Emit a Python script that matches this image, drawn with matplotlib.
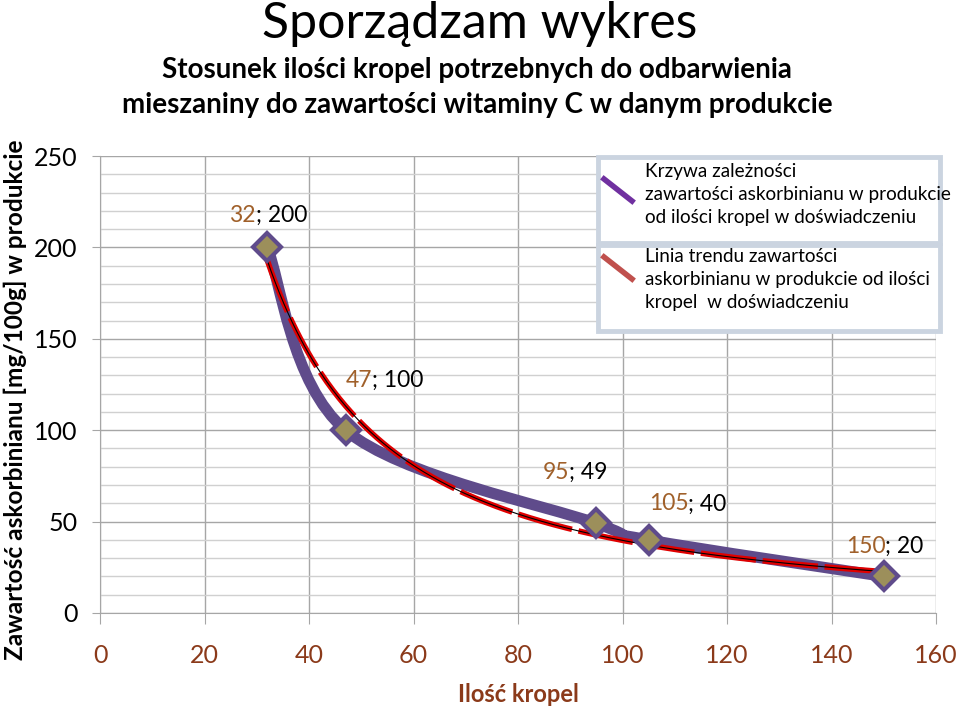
import numpy as np
import matplotlib
matplotlib.use('Agg')
import matplotlib.pyplot as plt
from matplotlib.path import Path
from matplotlib.patches import PathPatch, Rectangle
from matplotlib.lines import Line2D
from matplotlib.ticker import MultipleLocator

plt.rcParams['font.family'] = ['Lato', 'DejaVu Sans']

# dane z wykresu
krople = [32, 47, 95, 105, 150]
witamina_c = [200, 100, 49, 40, 20]
x_ticks = [0, 20, 40, 60, 80, 100, 120, 140, 160]
y_ticks = [0, 50, 100, 150, 200, 250]
# przesuniecia etykiet (px): lewa krawedz, w gore
label_off = [(-38, 32), (0, 50), (-54, 51), (0, 36), (-38, 30)]

legend_1 = ['Krzywa zależności',
            'zawartości askorbinianu w produkcie',
            'od ilości kropel w doświadczeniu']
legend_2 = ['Linia trendu zawartości',
            'askorbinianu w produkcie od ilości',
            'kropel  w doświadczeniu']

purple = '#5F4B8B'
brown = '#8B3A1A'
lab_brown = '#A0602A'

W, H = 960, 712
fig = plt.figure(figsize=(9.6, 7.12), dpi=100)
ax = fig.add_axes([100 / W, 1 - 613 / H, 836 / W, 457 / H])


def fx(px):
    return px / W


def fy(py):
    return 1 - py / H


ax.set_xlim(0, 160)
ax.set_ylim(0, 250)
ax.set_xticks(x_ticks)
ax.set_yticks(y_ticks)
ax.yaxis.set_minor_locator(MultipleLocator(10))
ax.grid(True, which='major', axis='x', color='#A6A6A6', lw=1)
ax.grid(True, which='major', axis='y', color='#A6A6A6', lw=1)
ax.grid(True, which='minor', axis='y', color='#D0D0D0', lw=1)
ax.set_axisbelow(True)
for s in ['top', 'right']:
    ax.spines[s].set_visible(False)
for s in ['left', 'bottom']:
    ax.spines[s].set_color('#A6A6A6')
ax.tick_params(axis='x', length=8, color='#A6A6A6', pad=14,
               labelsize=18, labelcolor=brown)
ax.tick_params(axis='y', length=6, color='#A6A6A6', pad=10,
               labelsize=18, labelcolor='black')
ax.tick_params(axis='y', which='minor', length=0)

# wygladzona krzywa (bezier jak w Excelu)
pts = np.column_stack([krople, witamina_c]).astype(float)
n = len(pts)
verts = [pts[0]]
codes = [Path.MOVETO]
for i in range(n - 1):
    p_prev = pts[i - 1] if i > 0 else pts[i]
    p_next2 = pts[i + 2] if i + 2 < n else pts[i + 1]
    c1 = pts[i] + (pts[i + 1] - p_prev) / 6
    c2 = pts[i + 1] - (p_next2 - pts[i]) / 6
    verts += [c1, c2, pts[i + 1]]
    codes += [Path.CURVE4] * 3
ax.add_patch(PathPatch(Path(verts, codes), fill=False, edgecolor=purple,
                       lw=8, capstyle='round', joinstyle='round', zorder=3))

# linia trendu potegowa
b, ln_a = np.polyfit(np.log(krople), np.log(witamina_c), 1)
xt = np.linspace(min(krople), max(krople), 300)
yt = np.exp(ln_a) * xt ** b
ax.plot(xt, yt, color='#E00000', lw=4, dashes=[10, 1.2], zorder=4)
ax.plot(xt, yt, color='black', lw=0.8, zorder=5)

ax.plot(krople, witamina_c, ls='none', marker='D', ms=14, mfc='#9C8F5B',
        mec=purple, mew=3, zorder=6)

# etykiety: x brazowy, reszta czarna
for x, y, (dx, dy) in zip(krople, witamina_c, label_off):
    t1 = ax.annotate(str(x), (x, y), xytext=(dx, dy),
                     textcoords='offset pixels', ha='left', va='center',
                     fontsize=16.5, color=lab_brown, zorder=7)
    ax.annotate(f'; {y}', xy=(1, 0), xycoords=t1, ha='left', va='bottom',
                fontsize=16.5, color='black', zorder=7)

# tytuly
fig.text(fx(480), fy(24), 'Sporządzam wykres', ha='center', va='center',
         fontsize=36)
fig.text(fx(477), fy(70), 'Stosunek ilości kropel potrzebnych do odbarwienia',
         ha='center', va='center', fontsize=20, fontweight='bold')
fig.text(fx(477), fy(105), 'mieszaniny do zawartości witaminy C w danym produkcie',
         ha='center', va='center', fontsize=20, fontweight='bold')
fig.text(fx(518), fy(695), 'Ilość kropel', ha='center', va='center',
         fontsize=17, fontweight='bold', color=brown)
fig.text(fx(15), fy(400), 'Zawartość askorbinianu [mg/100g] w produkcie',
         ha='center', va='center', rotation=90, fontsize=17.6,
         fontweight='bold')

# legenda
border = '#CBD4E0'
for top, bottom in [(157, 243), (245, 331)]:
    fig.add_artist(Rectangle((fx(598), fy(bottom)), fx(940) - fx(598),
                             fy(top) - fy(bottom), transform=fig.transFigure,
                             facecolor='white', edgecolor=border, lw=3.5,
                             zorder=10))
fig.add_artist(Line2D([fx(604), fx(632)], [fy(179), fy(201)],
                      transform=fig.transFigure, color='#7030A0', lw=4,
                      zorder=11))
fig.add_artist(Line2D([fx(604), fx(632)], [fy(257), fy(279)],
                      transform=fig.transFigure, color='#C0504D', lw=4,
                      zorder=11))
for lines, y0 in [(legend_1, 172), (legend_2, 257)]:
    for k, line in enumerate(lines):
        fig.text(fx(645), fy(y0 + k * 22.7), line, ha='left', va='center',
                 fontsize=13.6, zorder=12)

fig.savefig('out.png', dpi=100)
